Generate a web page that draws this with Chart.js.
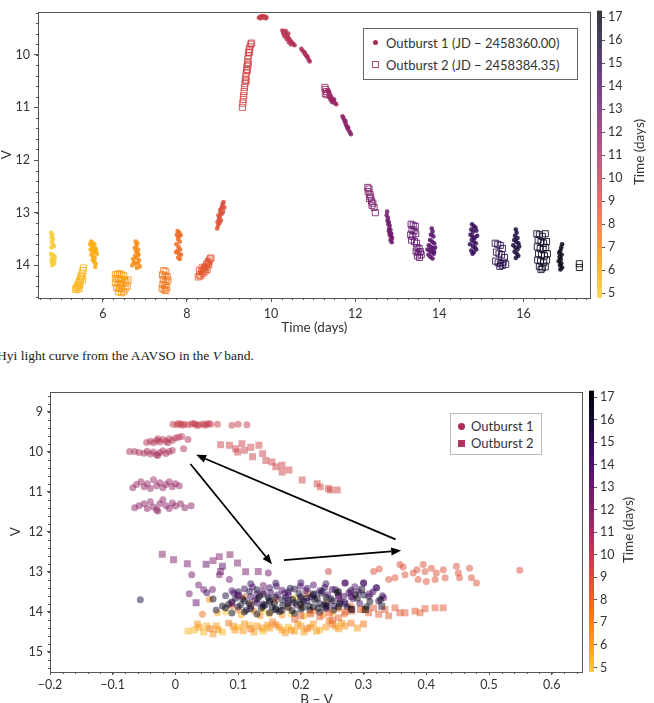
<!DOCTYPE html>
<html>
<head>
<meta charset="utf-8">
<script src="https://cdn.jsdelivr.net/npm/chart.js@4.4.0/dist/chart.umd.min.js"></script>
<style>
  html, body { margin: 0; padding: 0; background: #fff; overflow: hidden; }
  body { width: 654px; height: 703px; position: relative; font-family: Lato, 'DejaVu Sans', sans-serif; color: #333; }
  canvas { position: absolute; }
  .legend { position: absolute; background: #fff; box-sizing: border-box; font-size: 13px; color: #333; }
  .legend .row { position: absolute; white-space: nowrap; line-height: 16px; height: 16px; }
  .legend .mk { position: absolute; box-sizing: border-box; }
  .cbtitle { position: absolute; font-size: 13.5px; color: #333; white-space: nowrap; transform: translate(-50%, -50%) rotate(-90deg); }
  .caption { position: absolute; left: -3px; top: 348px; font-family: 'Liberation Serif', serif; font-size: 13.5px; color: #222; white-space: nowrap; }
</style>
</head>
<body>
<canvas id="lcChart" width="596" height="345" style="left:0;top:0"></canvas>
<canvas id="lcBar" width="64" height="345" style="left:590px;top:0"></canvas>
<canvas id="cmdChart" width="588" height="340" style="left:0;top:380px"></canvas>
<canvas id="cmdBar" width="72" height="340" style="left:582px;top:380px"></canvas>

<div class="legend" style="left:363px;top:28px;width:215px;height:52px;border:1px solid #666">
  <div class="mk" style="left:9px;top:11px;width:5px;height:5px;border-radius:50%;background:#a52d5f"></div>
  <div class="row" style="left:22px;top:6px">Outburst 1 (JD − 2458360.00)</div>
  <div class="mk" style="left:8px;top:32px;width:7px;height:7px;border:1px solid #b04a78"></div>
  <div class="row" style="left:22px;top:28px">Outburst 2 (JD − 2458384.35)</div>
</div>
<div class="cbtitle" style="left:639px;top:152px">Time (days)</div>
<div class="caption">Hyi light curve from the AAVSO in the <i>V</i> band.</div>

<div class="legend" style="left:450px;top:413px;width:92px;height:42px;border:1px solid #bbb">
  <div class="mk" style="left:7px;top:9px;width:7px;height:7px;border-radius:50%;background:#b02a5a"></div>
  <div class="row" style="left:20px;top:4px">Outburst 1</div>
  <div class="mk" style="left:7px;top:26px;width:7px;height:7px;background:#b0345f"></div>
  <div class="row" style="left:20px;top:21px">Outburst 2</div>
</div>
<div class="cbtitle" style="left:628px;top:530px">Time (days)</div>

<script>
// ------------------------------------
// Data
// ------------------------------------

// light curve: [time (days), V]
const outburst1LC = [
  [4.77,13.38],[4.80,13.42],[4.78,13.47],[4.82,13.50],[4.79,13.55],[4.81,13.60],[4.84,13.64],[4.78,13.66],[4.77,13.78],[4.80,13.80],
  [4.83,13.82],[4.86,13.84],[4.79,13.87],[4.82,13.89],[4.85,13.91],[4.78,13.93],[4.81,13.95],[4.84,13.97],[4.80,14.00],[4.83,13.86],
  [5.72,13.55],[5.76,13.57],[5.80,13.60],[5.74,13.63],[5.78,13.66],[5.83,13.68],[5.71,13.70],[5.75,13.73],[5.79,13.75],[5.84,13.72],
  [5.73,13.80],[5.77,13.83],[5.81,13.86],[5.76,13.90],[5.80,13.93],[5.83,13.97],[5.82,14.03],[5.86,13.78],[5.70,13.60],
  [6.78,13.55],[6.82,13.58],[6.80,13.63],[6.76,13.67],[6.84,13.70],[6.79,13.73],[6.83,13.77],[6.77,13.82],[6.72,13.88],[6.80,13.86],
  [6.86,13.90],[6.74,13.94],[6.78,13.97],[6.84,13.95],[6.70,14.00],[6.88,14.02],[6.81,14.05],[6.85,13.80],
  [7.78,13.35],[7.82,13.38],[7.76,13.42],[7.80,13.45],[7.85,13.43],[7.79,13.50],[7.83,13.55],[7.75,13.60],[7.80,13.65],[7.84,13.70],
  [7.77,13.73],[7.81,13.78],[7.86,13.80],[7.79,13.85],[7.83,13.88],[7.74,13.75],
  [8.32,14.15],[8.37,14.10],[8.41,14.02],[8.46,14.00],[8.50,13.90],[8.54,13.95],[8.44,14.07],
  [8.72,13.30],[8.74,13.25],[8.73,13.18],[8.76,13.12],[8.75,13.05],[8.78,13.08],[8.80,13.00],[8.79,12.95],[8.82,12.92],[8.84,12.88],
  [8.83,13.02],[8.85,12.83],[8.87,12.80],[8.86,12.98],[8.89,12.90],[8.81,13.15],[8.77,13.20],
  [9.71,9.30],[9.74,9.28],[9.77,9.27],[9.80,9.27],[9.83,9.27],[9.86,9.28],[9.89,9.29],[9.75,9.31],[9.82,9.30],[9.88,9.31],
  [10.27,9.54],[10.30,9.56],[10.33,9.58],[10.29,9.60],[10.35,9.62],[10.38,9.64],[10.32,9.65],[10.40,9.67],[10.43,9.70],[10.37,9.70],
  [10.45,9.73],[10.48,9.75],[10.42,9.76],[10.50,9.78],[10.53,9.80],[10.56,9.82],[10.47,9.80],[10.35,9.55],[10.41,9.60],
  [10.72,9.89],[10.75,9.92],[10.78,9.95],[10.81,9.99],[10.84,10.02],[10.87,10.06],[10.90,10.10],[10.92,10.13],[10.80,9.96],[10.86,10.03],
  [11.34,10.68],[11.37,10.72],[11.40,10.75],[11.36,10.78],[11.43,10.80],[11.39,10.82],[11.46,10.84],[11.42,10.86],[11.49,10.88],[11.45,10.90],
  [11.52,10.92],[11.55,10.94],[11.50,10.85],[11.38,10.70],
  [11.70,11.17],[11.72,11.20],[11.74,11.24],[11.76,11.28],[11.78,11.32],[11.80,11.36],[11.82,11.40],[11.85,11.44],[11.88,11.48],[11.90,11.51],
  [11.77,11.26],[11.83,11.38],
  [12.76,12.98],[12.75,13.05],[12.78,13.10],[12.77,13.15],[12.80,13.18],[12.79,13.22],[12.82,13.25],[12.81,13.30],[12.84,13.33],[12.83,13.38],
  [12.86,13.40],[12.85,13.45],[12.88,13.48],[12.84,13.52],[12.87,13.56],[12.82,13.42],[12.80,13.35],
  [13.82,13.30],[13.84,13.36],[13.80,13.42],[13.86,13.45],[13.78,13.52],[13.83,13.55],[13.88,13.58],[13.75,13.62],[13.80,13.65],[13.85,13.68],
  [13.90,13.66],[13.77,13.72],[13.82,13.75],[13.87,13.78],[13.74,13.80],[13.79,13.84],[13.84,13.87],[13.88,13.74],[13.72,13.70],
  [14.78,13.22],[14.82,13.26],[14.86,13.28],[14.76,13.32],[14.80,13.36],[14.88,13.34],[14.74,13.42],[14.79,13.45],[14.84,13.48],[14.90,13.44],
  [14.77,13.52],[14.82,13.55],[14.87,13.58],[14.73,13.60],[14.80,13.64],[14.85,13.66],[14.76,13.72],[14.82,13.75],[14.88,13.70],[14.79,13.78],
  [15.82,13.32],[15.84,13.38],[15.80,13.44],[15.86,13.48],[15.78,13.52],[15.83,13.55],[15.88,13.58],[15.76,13.62],[15.81,13.66],[15.86,13.70],
  [15.79,13.74],[15.84,13.78],[15.88,13.82],[15.82,13.86],[15.90,13.64],
  [16.92,13.60],[16.90,13.66],[16.88,13.72],[16.85,13.76],[16.91,13.80],[16.86,13.84],[16.89,13.88],[16.84,13.92],[16.90,13.96],[16.87,14.00],
  [16.92,14.04],[16.88,14.08]
];

const outburst2LC = [
  [5.35,14.46],[5.37,14.42],[5.39,14.45],[5.40,14.38],[5.42,14.40],[5.43,14.33],[5.45,14.30],[5.46,14.36],[5.47,14.25],[5.48,14.20],
  [5.50,14.22],[5.51,14.15],[5.53,14.10],[5.54,14.05],[5.52,14.28],[5.44,14.44],
  [6.30,14.18],[6.35,14.17],[6.40,14.16],[6.45,14.18],[6.50,14.20],[6.32,14.25],[6.38,14.27],[6.44,14.26],[6.52,14.28],[6.30,14.33],
  [6.36,14.35],[6.42,14.36],[6.48,14.34],[6.55,14.32],[6.33,14.42],[6.40,14.44],[6.46,14.43],[6.53,14.45],[6.37,14.50],[6.44,14.52],
  [6.50,14.50],[6.58,14.40],[6.60,14.28],
  [7.45,14.10],[7.50,14.12],[7.42,14.18],[7.48,14.20],[7.53,14.22],[7.44,14.27],[7.50,14.30],[7.55,14.28],[7.43,14.36],[7.48,14.38],
  [7.52,14.42],[7.46,14.46],[7.50,14.48],[7.41,14.44],
  [8.27,14.22],[8.30,14.18],[8.33,14.20],[8.35,14.12],[8.38,14.15],[8.40,14.08],[8.42,14.03],[8.45,14.05],[8.47,13.98],[8.50,13.95],
  [8.52,13.92],[8.55,13.88],[8.57,13.86],[8.48,14.08],[8.43,14.12],[8.36,14.05],[8.52,13.99],[8.30,14.10],
  [9.32,11.00],[9.33,10.92],[9.34,10.85],[9.35,10.78],[9.36,10.70],[9.37,10.62],[9.38,10.55],[9.39,10.48],[9.40,10.42],[9.41,10.35],
  [9.42,10.28],[9.43,10.22],[9.44,10.15],[9.45,10.08],[9.46,10.02],[9.47,9.96],[9.48,9.90],[9.50,9.85],[9.52,9.80],[9.54,9.78],
  [9.41,10.50],[9.44,10.30],[9.46,10.18],[9.49,9.95],
  [11.28,10.62],[11.30,10.66],[11.32,10.70],[11.29,10.74],[11.33,10.76],
  [12.30,12.52],[12.33,12.55],[12.31,12.60],[12.35,12.65],[12.37,12.70],[12.34,12.73],[12.39,12.78],[12.42,12.82],[12.40,12.86],[12.45,12.90],
  [12.48,13.00],
  [13.33,13.22],[13.38,13.24],[13.43,13.26],[13.35,13.32],[13.40,13.35],[13.32,13.42],[13.37,13.45],[13.44,13.40],[13.34,13.52],[13.41,13.55],
  [13.46,13.58],[13.47,13.66],[13.52,13.68],[13.45,13.73],[13.50,13.76],[13.55,13.74],[13.48,13.82],[13.53,13.85],[13.57,13.80],
  [15.33,13.58],[15.39,13.60],[15.45,13.62],[15.50,13.68],[15.36,13.75],[15.42,13.78],[15.48,13.80],[15.55,13.85],[15.34,13.92],[15.40,13.95],
  [15.46,13.97],[15.52,13.94],[15.58,13.98],[15.44,14.02],[15.50,14.00],
  [16.32,13.40],[16.38,13.42],[16.45,13.45],[16.52,13.40],[16.35,13.52],[16.42,13.55],[16.48,13.58],[16.55,13.55],[16.33,13.65],[16.40,13.68],
  [16.47,13.70],[16.53,13.66],[16.36,13.78],[16.43,13.80],[16.50,13.82],[16.57,13.78],[16.34,13.90],[16.41,13.92],[16.48,13.95],[16.55,13.90],
  [16.38,14.02],[16.45,14.05],[16.52,14.03],[16.42,14.08],
  [17.33,13.97],[17.33,14.04]
];

// colour-magnitude diagram: [B-V, V, time (days)]
const outburst1CMD = [
  [-0.004,9.32,9.71],[0.002,9.33,9.73],[0.008,9.31,9.75],[0.014,9.32,9.77],[0.02,9.33,9.79],[0.026,9.31,9.81],[0.032,9.32,9.83],[0.038,9.33,9.85],
  [0.044,9.31,9.87],[0.05,9.32,9.89],[0.056,9.32,9.9],[0.011,9.34,9.76],[0.029,9.30,9.8],[0.047,9.34,9.86],[0.067,9.32,9.8],[0.09,9.34,9.84],
  [0.1,9.32,9.86],[0.114,9.33,9.88],[0.005,9.3,9.74],[0.035,9.35,9.84],[0.053,9.3,9.88],
  [-0.046,9.77,10.5],[-0.04,9.74,10.48],[-0.035,9.78,10.5],[-0.03,9.72,10.45],[-0.025,9.76,10.47],[-0.02,9.70,10.42],[-0.015,9.74,10.44],
  [-0.01,9.68,10.4],[-0.005,9.72,10.42],[0.0,9.66,10.36],[0.005,9.64,10.33],[0.01,9.62,10.3],[-0.028,9.68,10.4],[-0.012,9.78,10.52],[0.02,9.70,10.45],
  [-0.073,10.0,10.8],[-0.065,10.0,10.82],[-0.058,10.02,10.8],[-0.05,10.04,10.84],[-0.045,9.99,10.78],[-0.04,10.06,10.86],[-0.035,10.01,10.8],
  [-0.03,10.08,10.88],[-0.025,10.03,10.82],[-0.02,9.98,10.76],[-0.015,10.05,10.84],[-0.01,10.0,10.78],[-0.005,9.97,10.74],[-0.028,10.1,10.9],[0.013,9.93,10.72],
  [-0.068,10.9,11.5],[-0.062,10.82,11.45],[-0.055,10.75,11.4],[-0.05,10.88,11.48],[-0.045,10.8,11.44],[-0.04,10.92,11.5],[-0.035,10.7,11.36],
  [-0.03,10.85,11.46],[-0.025,10.78,11.42],[-0.02,10.9,11.5],[-0.015,10.82,11.44],[-0.01,10.75,11.4],[-0.005,10.88,11.48],[0.0,10.8,11.43],[0.006,10.85,11.46],
  [-0.065,11.4,11.85],[-0.058,11.35,11.82],[-0.05,11.3,11.8],[-0.045,11.42,11.86],[-0.04,11.25,11.76],[-0.035,11.38,11.84],[-0.03,11.45,11.9],
  [-0.025,11.3,11.8],[-0.02,11.2,11.72],[-0.015,11.35,11.82],[-0.01,11.42,11.88],[-0.005,11.28,11.78],[0.0,11.36,11.83],[0.008,11.3,11.8],
  [0.015,11.4,11.86],[0.025,11.35,11.84],[-0.028,11.48,11.9],
  [0.026,13.07,12.76],[0.037,13.33,12.82],[0.045,13.44,12.85],[0.022,13.55,12.87],[0.059,13.44,12.84],[0.07,13.07,12.78],[0.086,13.19,12.8],
  [0.148,13.03,12.76],[0.244,12.99,9.5],[-0.056,13.7,15.5],
  [0.316,12.99,8.8],[0.325,12.93,8.82],[0.34,13.19,8.76],[0.35,13.15,8.77],[0.358,12.82,8.86],[0.363,12.88,8.84],[0.366,13.07,8.8],[0.379,13.03,8.8],
  [0.385,12.95,8.82],[0.387,13.19,8.76],[0.395,12.82,8.86],[0.398,12.99,8.8],[0.4,13.24,8.74],[0.408,12.91,8.83],[0.414,13.19,8.76],[0.416,13.03,8.8],
  [0.427,12.95,8.82],[0.43,13.15,8.77],[0.448,12.86,8.85],[0.451,13.03,8.8],[0.453,13.15,8.77],[0.469,12.91,8.83],[0.472,13.15,8.77],[0.48,13.28,8.73],
  [0.549,12.96,8.82],
  [0.054,13.69,6.8],[0.043,14.06,7.8],[0.067,14.02,5.8],[0.09,13.85,7.8],[0.1,13.95,6.8],[0.12,13.8,5.8],[0.14,13.98,4.8],[0.16,13.7,7.8],
  [0.18,13.9,6.8],[0.2,13.85,5.8],[0.22,13.98,7.8],[0.24,13.75,4.8],[0.26,13.92,6.8],[0.28,13.85,7.8],[0.15,14.05,5.8],[0.11,13.62,7.8],
  [0.19,13.65,4.8],[0.25,14.02,5.8],[0.3,13.95,6.8],[0.08,14.0,4.8],[0.21,13.55,7.8],[0.17,14.08,6.8],
  [0.105,14.08,5.8],[0.135,14.1,6.8],[0.185,14.06,4.8],[0.205,14.1,5.8],[0.235,14.08,6.8],[0.27,14.05,7.8],[0.125,13.98,6.8],[0.215,14.04,4.8],
  [0.12,13.3,14.8],[0.16,13.28,14.8],[0.2,13.27,14.8],[0.24,13.3,14.8],[0.27,13.28,13.8],[0.3,13.28,14.8],[0.14,13.34,12.85],[0.22,13.33,13.8],
  [0.09,13.47,13.8],[0.11,13.42,14.8],[0.13,13.45,15.8],[0.15,13.4,14.8],[0.17,13.46,13.8],[0.19,13.43,15.8],[0.21,13.41,14.8],[0.23,13.47,13.8],
  [0.25,13.44,14.8],[0.28,13.46,15.8],[0.32,13.4,13.8],[0.1,13.5,15.8],[0.18,13.5,14.8],[0.26,13.49,16.9],
  [0.08,13.6,15.8],[0.1,13.58,13.8],[0.12,13.62,14.8],[0.14,13.56,16.9],[0.16,13.63,15.8],[0.18,13.58,13.8],[0.2,13.62,14.8],[0.22,13.57,15.8],
  [0.24,13.63,16.9],[0.26,13.59,13.8],[0.28,13.62,14.8],[0.3,13.58,15.8],[0.33,13.6,14.8],[0.13,13.55,13.8],[0.21,13.65,16.4],[0.29,13.66,16.9],
  [0.09,13.75,16.9],[0.11,13.72,15.8],[0.13,13.78,14.8],[0.15,13.74,16.4],[0.17,13.7,15.8],[0.19,13.77,16.9],[0.21,13.73,14.8],[0.23,13.79,15.8],
  [0.25,13.72,16.9],[0.27,13.76,13.8],[0.31,13.74,16.9],[0.14,13.8,15.8],[0.2,13.8,16.9],[0.24,13.78,14.8],
  [0.08,13.9,16.9],[0.1,13.88,15.8],[0.12,13.92,16.9],[0.14,13.86,16.4],[0.16,13.93,16.9],[0.18,13.88,15.8],[0.2,13.94,16.9],[0.22,13.87,16.9],
  [0.24,13.92,15.8],[0.26,13.88,16.9],[0.28,13.93,16.9],[0.17,13.96,16.9],
  [0.11,14.0,16.9],[0.13,14.05,16.9],[0.15,14.02,16.9],[0.19,14.04,16.9],[0.23,14.01,16.9],[0.09,14.03,16.9],
  [0.05,13.52,14.8],[0.06,13.68,16.9],[0.075,13.85,16.9],[0.065,13.95,15.8],
  [0.271,13.28,14.8],[0.3,13.28,13.8],[0.321,13.4,14.8],[0.308,13.61,15.8],[0.332,13.65,13.8],[0.324,13.73,14.8],[0.276,13.53,13.8],
  [0.255,13.44,14.8],[0.234,13.48,15.8],[0.327,13.69,16.9],
  [0.093,13.53,14.8],[0.107,13.67,16.9],[0.118,13.49,15.8],[0.127,13.71,13.8],[0.134,13.61,16.9],[0.143,13.83,15.8],[0.152,13.52,14.8],
  [0.158,13.78,16.9],[0.163,13.57,13.8],[0.171,13.84,16.4],[0.176,13.64,14.8],[0.183,13.41,15.8],[0.187,13.69,16.9],[0.193,13.83,14.8],
  [0.197,13.54,16.4],[0.204,13.74,15.8],[0.208,13.47,13.8],[0.213,13.86,16.9],[0.217,13.62,14.8],[0.226,13.66,16.9],[0.232,13.53,15.8],
  [0.237,13.83,16.4],[0.243,13.57,13.8],[0.248,13.67,15.8],[0.253,13.85,14.8],[0.258,13.52,16.9],[0.263,13.74,15.8],[0.268,13.61,14.8],
  [0.274,13.88,16.9],[0.283,13.67,13.8],[0.287,13.57,16.9],[0.294,13.79,14.8],[0.104,13.83,16.4],[0.113,13.96,15.8],[0.137,13.91,16.9],
  [0.148,13.64,15.8],[0.166,13.99,16.9],[0.174,13.53,14.8],[0.186,13.97,16.4],[0.214,13.95,15.8],[0.228,13.91,16.9],[0.252,13.96,16.4],
  [0.123,13.38,13.8],[0.161,13.36,14.8],[0.199,13.36,13.8],[0.238,13.39,14.8],[0.286,13.37,13.8],[0.315,13.5,14.8],[0.305,13.87,16.9],
  [0.096,13.66,15.8],[0.085,13.81,16.4],[0.131,13.67,16.4],[0.179,13.79,16.9],[0.222,13.7,16.9],[0.261,13.79,16.4],[0.154,13.88,16.9],
  [0.203,13.89,16.9],[0.242,13.85,16.9],[0.117,13.79,16.9],[0.292,13.5,14.8]
];

const outburst2CMD = [
  [0.072,9.83,9.55],[0.086,9.84,9.55],[0.096,9.93,9.53],[0.099,10.01,9.51],[0.11,9.97,9.52],[0.12,9.89,9.53],[0.133,9.84,9.54],[0.123,10.13,9.48],
  [0.139,10.05,9.5],[0.144,10.22,9.46],[0.154,10.26,9.45],[0.16,10.38,9.43],[0.17,10.34,9.44],[0.17,10.51,9.41],[0.181,10.46,9.42],[0.202,10.71,9.38],
  [0.226,10.8,9.36],[0.231,10.88,9.35],[0.244,10.92,9.34],[0.258,10.96,9.33],[0.247,10.96,9.33],[0.106,9.8,9.55],
  [-0.021,12.56,12.3],[-0.003,12.70,12.35],[0.019,12.80,12.4],[0.049,12.81,13.4],[0.07,12.62,12.35],[0.087,12.57,12.3],[0.099,12.78,12.45],
  [0.075,12.86,13.35],[0.072,12.99,12.5],[0.112,13.0,12.5],[0.132,12.99,12.48],[0.033,13.77,13.5],[0.06,12.72,12.4],
  [0.03,14.45,5.45],[0.035,14.3,6.45],[0.045,14.5,5.4],[0.055,14.42,7.45],[0.065,14.35,6.4],[0.075,14.5,5.5],[0.085,14.28,7.5],[0.095,14.45,6.45],
  [0.1,14.38,5.45],[0.11,14.3,6.5],[0.12,14.42,7.45],[0.13,14.35,6.35],[0.14,14.48,5.4],[0.15,14.4,6.45],[0.16,14.32,7.5],[0.17,14.45,6.45],
  [0.18,14.38,5.5],[0.19,14.48,6.4],[0.2,14.35,6.5],[0.21,14.42,7.45],[0.22,14.3,6.45],[0.23,14.45,5.45],[0.24,14.38,6.4],[0.25,14.3,7.45],
  [0.26,14.42,6.45],[0.27,14.35,6.5],[0.28,14.28,7.5],[0.29,14.4,6.45],[0.125,14.5,6.4],[0.175,14.52,6.5],[0.205,14.5,6.45],[0.06,14.55,6.5],
  [0.155,14.25,7.4],[0.245,14.22,7.5],[0.3,14.3,7.45],
  [0.038,14.38,6.45],[0.068,14.44,6.45],[0.092,14.36,6.4],[0.108,14.47,6.5],[0.118,14.33,5.45],[0.138,14.4,6.45],[0.147,14.33,6.4],
  [0.165,14.38,6.45],[0.185,14.45,6.4],[0.195,14.3,6.45],[0.215,14.38,6.5],[0.225,14.48,6.45],[0.255,14.36,6.4],[0.265,14.28,6.45],
  [0.05,14.35,5.45],[0.02,14.48,5.4],
  [0.2,14.1,8.3],[0.215,14.05,8.35],[0.23,14.12,8.3],[0.245,14.02,8.4],[0.26,14.15,8.28],[0.27,14.0,8.45],[0.281,13.98,8.45],[0.295,13.94,8.5],
  [0.308,14.02,8.42],[0.316,13.9,8.52],[0.324,14.06,8.38],[0.334,13.94,8.5],[0.34,14.1,8.35],[0.35,13.9,8.52],[0.358,14.02,8.42],[0.366,14.02,8.42],
  [0.382,13.98,8.46],[0.39,14.02,8.42],[0.398,13.92,8.5],[0.414,13.9,8.52],[0.427,13.9,8.55],[0.19,14.18,8.27],[0.25,14.2,8.3],
  [0.1,13.6,13.5],[0.14,13.5,13.4],[0.18,13.72,15.45],[0.22,13.55,16.45],[0.26,13.65,13.5],[0.12,13.85,15.45],[0.16,13.95,16.45],[0.2,13.68,16.45],
  [0.24,13.88,15.45],[0.297,13.44,16.45],[0.281,13.94,16.45],[0.303,13.94,17.3],[0.329,13.86,16.45],[0.31,13.55,13.45],[0.09,13.78,13.5],
  [0.15,13.7,16.45],[0.27,13.8,15.45],[0.28,13.52,13.5]
];

// arrows on the colour-magnitude diagram, [B-V, V]
const arrowTails = [[0.024, 10.31], [0.173, 12.71], [0.351, 12.19]];
const arrowHeads = [[0.154, 12.81], [0.360, 12.47], [0.033, 10.08]];

// axes and tick labels
const lcXTicks = [6, 8, 10, 12, 14, 16];
const lcYTicks = [10, 11, 12, 13, 14];
const cmdXTicks = [-0.2, -0.1, 0, 0.1, 0.2, 0.3, 0.4, 0.5, 0.6];
const cmdYTicks = [9, 10, 11, 12, 13, 14, 15];
const cbTicks = [5, 6, 7, 8, 9, 10, 11, 12, 13, 14, 15, 16, 17];
const CB_MIN = 4.8, CB_MAX = 17.3;

document.addEventListener('DOMContentLoaded', function() {

    Chart.defaults.font.family = "Lato, 'DejaVu Sans', sans-serif";
    Chart.defaults.color = '#333';
    const AXIS = '#555';

    // ------------------------------------
    // colour map (inferno, reversed)
    // ------------------------------------
    const INFERNO = [[0,0,4],[22,11,57],[66,10,104],[106,23,110],[147,38,103],[188,55,84],
                     [221,81,58],[243,120,25],[252,165,10],[246,215,70],[252,255,164]];

    function timeColor(t, alpha) {
        let n = 0.88 * (CB_MAX - t) / (CB_MAX - CB_MIN);
        n = Math.max(0, Math.min(0.88, n)) * 10;
        const i = Math.min(9, Math.floor(n)), f = n - i;
        const c = INFERNO[i].map((v, k) => Math.round(v + (INFERNO[i + 1][k] - v) * f));
        return `rgba(${c[0]},${c[1]},${c[2]},${alpha})`;
    }

    function fmtTick(v) {
        const s = String(Math.round(Math.abs(v) * 100) / 100);
        return v < 0 ? '\u2212' + s : s;
    }

    // ------------------------------------
    // small drawing plugins
    // ------------------------------------
    const framePlugin = {
        id: 'frame',
        afterDraw(chart) {
            const { ctx, chartArea: a } = chart;
            ctx.save();
            ctx.strokeStyle = AXIS;
            ctx.lineWidth = 1;
            ctx.strokeRect(Math.round(a.left) + 0.5, Math.round(a.top) + 0.5,
                           Math.round(a.right - a.left) - 1, Math.round(a.bottom - a.top) - 1);
            ctx.restore();
        }
    };

    const minorTicksPlugin = {
        id: 'minorTicks',
        afterDraw(chart, args, opts) {
            const { ctx, chartArea: a, scales } = chart;
            const xs = scales.x, ys = scales.y;
            ctx.save();
            ctx.strokeStyle = AXIS;
            ctx.lineWidth = 1;
            ctx.beginPath();
            for (let k = Math.ceil(xs.min / opts.xStep); k * opts.xStep <= xs.max; k++) {
                const px = Math.round(xs.getPixelForValue(k * opts.xStep)) + 0.5;
                ctx.moveTo(px, a.bottom);
                ctx.lineTo(px, a.bottom + 2);
            }
            for (let k = Math.ceil(ys.min / opts.yStep); k * opts.yStep <= ys.max; k++) {
                const py = Math.round(ys.getPixelForValue(k * opts.yStep)) + 0.5;
                ctx.moveTo(a.left, py);
                ctx.lineTo(a.left - 2, py);
            }
            ctx.stroke();
            ctx.restore();
        }
    };

    const arrowPlugin = {
        id: 'arrows',
        afterDatasetsDraw(chart) {
            const { ctx, scales: { x, y } } = chart;
            ctx.save();
            ctx.strokeStyle = '#000';
            ctx.fillStyle = '#000';
            ctx.lineWidth = 1.8;
            arrowTails.forEach((tail, i) => {
                const head = arrowHeads[i];
                const x0 = x.getPixelForValue(tail[0]), y0 = y.getPixelForValue(tail[1]);
                const x1 = x.getPixelForValue(head[0]), y1 = y.getPixelForValue(head[1]);
                const ang = Math.atan2(y1 - y0, x1 - x0);
                const len = 10, w = 4;
                const bx = x1 - len * Math.cos(ang), by = y1 - len * Math.sin(ang);
                ctx.beginPath();
                ctx.moveTo(x0, y0);
                ctx.lineTo(bx, by);
                ctx.stroke();
                ctx.beginPath();
                ctx.moveTo(x1, y1);
                ctx.lineTo(bx - w * Math.sin(ang), by + w * Math.cos(ang));
                ctx.lineTo(bx + w * Math.sin(ang), by - w * Math.cos(ang));
                ctx.closePath();
                ctx.fill();
            });
            ctx.restore();
        }
    };

    // ------------------------------------
    // shared axis builders
    // ------------------------------------
    function linearAxis(opts) {
        return {
            type: 'linear',
            position: opts.position,
            min: opts.min,
            max: opts.max,
            reverse: !!opts.reverse,
            afterFit: s => { if (opts.height) s.height = opts.height; if (opts.width) s.width = opts.width; },
            afterBuildTicks: s => { s.ticks = opts.ticks.map(v => ({ value: v })); },
            border: { display: false },
            grid: { drawOnChartArea: false, drawTicks: true, tickLength: opts.tickLength || 4, color: AXIS },
            ticks: { callback: fmtTick, padding: opts.padding, font: { size: opts.fontSize || 12.5 }, color: '#333', maxRotation: 0 },
            title: opts.title ? { display: true, text: opts.title, font: { size: 13.5, lineHeight: 1 }, color: '#333', padding: opts.titlePadding } : { display: false }
        };
    }

    function scatterSet(label, rows, map, style) {
        return {
            label,
            data: rows.map(map),
            showLine: false,
            pointStyle: style.shape,
            pointRadius: style.radius,
            pointBorderWidth: style.borderWidth,
            pointBackgroundColor: c => c.raw ? (style.fill ? timeColor(c.raw.t, style.alpha) : 'rgba(0,0,0,0)') : 'rgba(0,0,0,0)',
            pointBorderColor: c => c.raw ? timeColor(c.raw.t, style.alpha) : 'rgba(0,0,0,0)',
            order: style.order
        };
    }

    const base = {
        responsive: false,
        animation: false,
        events: [],
        plugins: { legend: { display: false }, tooltip: { enabled: false } }
    };

    // ------------------------------------
    // light curve
    // ------------------------------------
    new Chart(document.getElementById('lcChart'), {
        type: 'scatter',
        data: {
            datasets: [
                scatterSet('Outburst 1', outburst1LC, r => ({ x: r[0], y: r[1], t: r[0] }),
                           { shape: 'circle', radius: 2.3, borderWidth: 0, fill: true, alpha: 0.85, order: 1 }),
                scatterSet('Outburst 2', outburst2LC, r => ({ x: r[0], y: r[1], t: r[0] }),
                           { shape: 'rect', radius: 4.3, borderWidth: 1, fill: false, alpha: 0.85, order: 0 })
            ]
        },
        options: Object.assign({}, base, {
            layout: { padding: { left: 0, top: 7, right: 3, bottom: 0 } },
            scales: {
                x: linearAxis({ position: 'bottom', min: 4.46, max: 17.6, ticks: lcXTicks, height: 47,
                                padding: 4, title: 'Time (days)', titlePadding: { top: 0, bottom: 11 } }),
                y: linearAxis({ position: 'left', min: 9.18, max: 14.62, reverse: true, ticks: lcYTicks, width: 38,
                                padding: 4, title: 'V', titlePadding: { top: 0, bottom: 0 } })
            },
            plugins: Object.assign({}, base.plugins, { minorTicks: { xStep: 0.25, yStep: 0.2 } })
        }),
        plugins: [framePlugin, minorTicksPlugin]
    });

    // ------------------------------------
    // colour-magnitude diagram
    // ------------------------------------
    const byTime = (a, b) => a[2] - b[2];
    new Chart(document.getElementById('cmdChart'), {
        type: 'scatter',
        data: {
            datasets: [
                scatterSet('Outburst 1', outburst1CMD.slice().sort(byTime), r => ({ x: r[0], y: r[1], t: r[2] }),
                           { shape: 'circle', radius: 3.5, borderWidth: 0, fill: true, alpha: 0.5, order: 1 }),
                scatterSet('Outburst 2', outburst2CMD.slice().sort(byTime), r => ({ x: r[0], y: r[1], t: r[2] }),
                           { shape: 'rect', radius: 4.9, borderWidth: 0, fill: true, alpha: 0.5, order: 0 })
            ]
        },
        options: Object.assign({}, base, {
            layout: { padding: { left: 0, top: 10, right: 2, bottom: 0 } },
            scales: {
                x: linearAxis({ position: 'bottom', min: -0.2, max: 0.65, ticks: cmdXTicks, height: 48,
                                tickLength: 3, padding: 2, title: 'B \u2212 V', titlePadding: { top: 0, bottom: 14 } }),
                y: linearAxis({ position: 'left', min: 8.5, max: 15.5, reverse: true, ticks: cmdYTicks, width: 50,
                                tickLength: 3, padding: 4, title: 'V', titlePadding: { top: 9, bottom: 0 } })
            },
            plugins: Object.assign({}, base.plugins, { minorTicks: { xStep: 0.02, yStep: 0.2 } })
        }),
        plugins: [framePlugin, minorTicksPlugin, arrowPlugin]
    });

    // ------------------------------------
    // colour bars
    // ------------------------------------
    function colorBar(id, alpha, pad, width) {
        new Chart(document.getElementById(id), {
            type: 'bar',
            data: {
                labels: ['t'],
                datasets: [{
                    data: [[CB_MIN, CB_MAX]],
                    barPercentage: 1,
                    categoryPercentage: 1,
                    borderWidth: 0,
                    backgroundColor: c => {
                        const chart = c.chart, ys = chart.scales.y;
                        if (!chart.chartArea || !ys) return 'rgba(0,0,0,0)';
                        const g = chart.ctx.createLinearGradient(0, ys.getPixelForValue(CB_MIN), 0, ys.getPixelForValue(CB_MAX));
                        for (let k = 0; k <= 24; k++) {
                            g.addColorStop(k / 24, timeColor(CB_MIN + (CB_MAX - CB_MIN) * k / 24, alpha));
                        }
                        return g;
                    }
                }]
            },
            options: Object.assign({}, base, {
                layout: { padding: pad },
                scales: {
                    x: { display: false },
                    y: linearAxis({ position: 'right', min: CB_MIN, max: CB_MAX, ticks: cbTicks, width: width,
                                    tickLength: 3, padding: 3, fontSize: 12.5 })
                }
            })
        });
    }

    colorBar('lcBar', 0.78, { left: 7, top: 7, right: 0, bottom: 47 }, 52);
    colorBar('cmdBar', 1, { left: 7, top: 10, right: 0, bottom: 48 }, 60);
});
</script>
</body>
</html>
